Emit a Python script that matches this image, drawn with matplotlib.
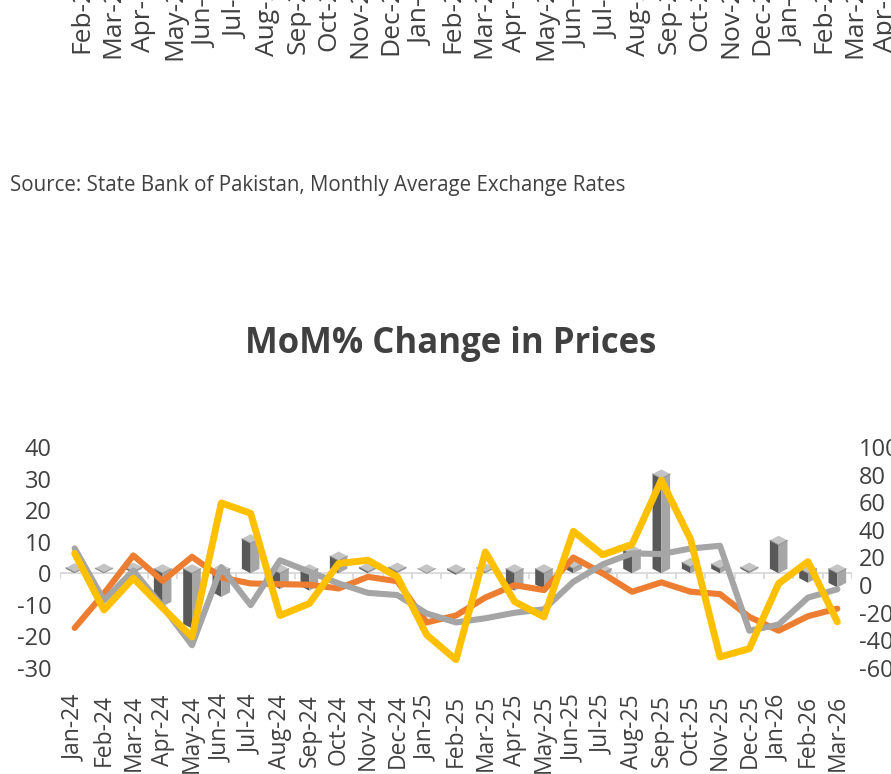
import numpy as np
import matplotlib
matplotlib.use("Agg")
import matplotlib.pyplot as plt

plt.rcParams['font.family'] = ['Open Sans', 'DejaVu Sans']

# ---------------- data ----------------
months = ["Jan-24", "Feb-24", "Mar-24", "Apr-24", "May-24", "Jun-24", "Jul-24",
          "Aug-24", "Sep-24", "Oct-24", "Nov-24", "Dec-24", "Jan-25", "Feb-25",
          "Mar-25", "Apr-25", "May-25", "Jun-25", "Jul-25", "Aug-25", "Sep-25",
          "Oct-25", "Nov-25", "Dec-25", "Jan-26", "Feb-26", "Mar-26"]

# columns (left axis)
bars = [0.3, 0.2, 0.5, -10.5, -17.5, -7.5, 9.5, -5, -5.5, 4, 0.5, 0.5, 0, -0.5,
        0.3, -5.5, -5, 1.5, -1, 6, 30, 2, 1.5, 0.5, 9, -3, -4.5]

# lines (right axis)
orange = [-31, -6, 21.5, 3, 20.5, 5.5, 1.2, 0.7, 0.3, -2.4, 6, 2.8, -27, -22,
          -9, 0, -3.6, 20, 8.5, -4.8, 2, -4.8, -6.5, -23, -33, -22.5, -17]
grey = [26.6, -11, 10.5, -15.5, -43.5, 13, -14.5, 18, 9.7, 1.2, -5.6, -7.2, -20.5,
        -27, -24, -20, -17.5, 2.4, 15, 23, 22.5, 26.5, 28.5, -33, -28.5, -9, -3]
yellow = [23, -18, 5, -16.5, -37.5, 59.5, 52, -22, -13.3, 15.7, 18, 6, -36, -54,
          24, -12, -23, 39, 22, 29.5, 76, 33, -52, -46, 1.2, 17, -26.6]

left_ticks = [-30, -20, -10, 0, 10, 20, 30, 40]
right_ticks = [-60, -40, -20, 0, 20, 40, 60, 80, 100]

# labels of the chart above (cropped at the top of the picture)
prev_labels = ["Feb-24", "Mar-24", "Apr-24", "May-24", "Jun-24", "Jul-24", "Aug-24",
               "Sep-24", "Oct-24", "Nov-24", "Dec-24", "Jan-25", "Feb-25", "Mar-25",
               "Apr-25", "May-25", "Jun-25", "Jul-25", "Aug-25", "Sep-25", "Oct-25",
               "Nov-25", "Dec-25", "Jan-26", "Feb-26", "Mar-26", "Apr-26"]

title = "MoM% Change in Prices"
source = "Source: State Bank of Pakistan, Monthly Average Exchange Rates"

# ---------------- figure ----------------
W, H = 891, 774
fig = plt.figure(figsize=(W / 100, H / 100), dpi=100)
fig.patch.set_facecolor("white")
TXT = "#404040"

# previous chart's category labels (cropped)
sp = 30.9
axp = fig.add_axes([(82 - 0.5 * sp) / W, 1 + 30 / H, 27 * sp / W, 0.05])
axp.set_xlim(-0.5, len(prev_labels) - 0.5)
axp.set_xticks(range(len(prev_labels)))
axp.set_xticklabels(prev_labels, rotation=90, fontsize=19, color=TXT)
axp.tick_params(axis='x', length=0, pad=0)
axp.set_yticks([])
for s in axp.spines.values():
    s.set_visible(False)
axp.patch.set_visible(False)

fig.text(10 / W, 1 - 185 / H, source, fontsize=14.8, color=TXT, va="center", ha="left")
fig.text(451 / W, 1 - 344 / H, title, fontsize=25, fontweight="bold", color=TXT,
         va="center", ha="center")

ax = fig.add_axes([60 / W, 106 / H, 792 / W, 221 / H])
ax.set_xlim(-0.5, len(months) - 0.5)
ax.set_ylim(-30, 40)
ax.set_yticks(left_ticks)
ax.set_yticklabels([str(t) for t in left_ticks])
ax.set_xticks(range(len(months)))
ax.set_xticklabels(months, rotation=90)
ax.tick_params(axis='both', length=0, labelsize=17, labelcolor=TXT)
ax.tick_params(axis='x', pad=19, labelsize=16.5)
ax.tick_params(axis='y', pad=6)
for s in ax.spines.values():
    s.set_visible(False)

# floor line with small tick marks
ax.plot([-0.5, len(months) - 0.5], [0, 0], color="#D9D9D9", lw=1.3, zorder=1)
ax.vlines(np.arange(-0.5, len(months)), -1.7, 0, color="#D9D9D9", lw=1.3, zorder=1)

# pseudo-3D columns
h = 0.3    # half width (category units)
d = 1.45   # diamond half height (left-axis units)
for i, v in enumerate(bars):
    T = max(v, 0)
    B = min(v, 0)
    # left (dark) face
    ax.fill([i - h, i, i, i - h], [T + d, T, B, B + d], color="#595959", lw=0, zorder=2)
    # right (light) face
    ax.fill([i, i + h, i + h, i], [T, T + d, B + d, B], color="#A6A6A6", lw=0, zorder=2)
    # top diamond
    ax.fill([i - h, i, i + h, i], [T + d, T, T + d, T + 2 * d], color="#C4C4C4",
            lw=0, zorder=3)
    ax.plot([i - h, i, i + h], [T + d, T, T + d], color="#8C8C8C", lw=0.6, zorder=3)

ax2 = ax.twinx()
ax2.set_ylim(-60, 100)
ax2.set_yticks(right_ticks)
ax2.set_yticklabels([str(t) for t in right_ticks])
ax2.tick_params(axis='y', length=0, labelsize=17, labelcolor=TXT, pad=5)
for s in ax2.spines.values():
    s.set_visible(False)

x = np.arange(len(months))
ax2.plot(x, orange, color="#ED7D31", lw=4.4, solid_joinstyle="round",
         solid_capstyle="round", zorder=3)
ax2.plot(x, grey, color="#A5A5A5", lw=4.4, solid_joinstyle="round",
         solid_capstyle="round", zorder=4)
ax2.plot(x, yellow, color="#FFC000", lw=5.0, solid_joinstyle="round",
         solid_capstyle="round", zorder=5)

fig.savefig("out.png", dpi=100, facecolor="white")
